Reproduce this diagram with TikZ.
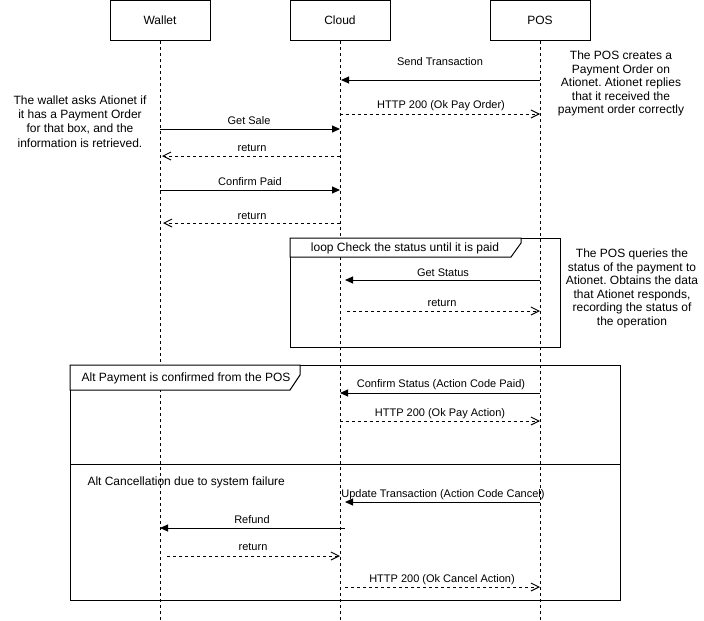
\documentclass[tikz,border=0pt]{standalone}
\usepackage{fontspec}
\setmainfont{Liberation Sans}
\usetikzlibrary{arrows.meta}
\frenchspacing
\begin{document}
\begin{tikzpicture}[x=1pt,y=-1pt,line width=1pt,
  head/.style={draw,minimum width=100pt,minimum height=40pt,inner sep=0pt,font=\fontsize{12}{14}\selectfont},
  lifeline/.style={dash pattern=on 3pt off 3pt},
  syncmsg/.style={-{Triangle[length=8pt,width=7pt]}},
  retmsg/.style={dash pattern=on 3pt off 3pt,-{Straight Barb[length=8pt,width=8pt]}},
  msglabel/.style={anchor=base,inner sep=0pt,font=\fontsize{11}{13}\selectfont},
  framelabel/.style={anchor=base,inner sep=0pt,font=\fontsize{12}{14}\selectfont},
  notetext/.style={align=center,inner sep=0pt,font=\fontsize{12}{13.5}\selectfont},
  frame/.style={draw},
  framehead/.style={draw,fill=white}]
\useasboundingbox (0,0) rectangle (704,621);
% heads
\node[head] (wallet) at (160,20.5) {Wallet};
\node[head] (cloud) at (340,20.5) {Cloud};
\node[head] (pos) at (540,20.5) {POS};
\coordinate (wend) at (160,621);
\coordinate (cend) at (340,621);
\coordinate (pend) at (540,621);
\draw[lifeline] (wallet.south) -- (wend);
\draw[lifeline] (cloud.south) -- (cend);
\draw[lifeline] (pos.south) -- (pend);
% frames
\draw[frame] (290,238) rectangle (560,347);
\draw[framehead] (290,238) -- (521,238) -- (521,243) -- (511,257) -- (290,257) -- cycle;
\node[framelabel] (looplabel) at (405,251.3) {loop Check the status until it is paid};
\draw[frame] (70,365) rectangle (620,600);
\draw[framehead] (70,365) -- (300,365) -- (300,375) -- (290,390) -- (70,390) -- cycle;
\draw[frame] (70,464) -- (620,464);
\node[framelabel] (altlabel) at (186,381.3) {Alt Payment is confirmed from the POS};
\node[framelabel,anchor=base west] (alt2label) at (87,485.3) {Alt Cancellation due to system failure};
% messages
\coordinate (a1) at (540,80); \coordinate (b1) at (341,80);
\draw[syncmsg] (a1) -- (b1);
\node[msglabel] (l1) at (440,65) {Send Transaction};
\coordinate (a2) at (340,114); \coordinate (b2) at (540,114);
\draw[retmsg] (a2) -- (b2);
\node[msglabel] (l2) at (441,108) {HTTP 200 (Ok Pay Order)};
\coordinate (a3) at (160,129); \coordinate (b3) at (340,129);
\draw[syncmsg] (a3) -- (b3);
\node[msglabel] (l3) at (249,124) {Get Sale};
\coordinate (a4) at (340,156); \coordinate (b4) at (162,156);
\draw[retmsg] (a4) -- (b4);
\node[msglabel] (l4) at (252,151) {return};
\coordinate (a5) at (160,190); \coordinate (b5) at (340,190);
\draw[syncmsg] (a5) -- (b5);
\node[msglabel] (l5) at (250,185) {Confirm Paid};
\coordinate (a6) at (340,223); \coordinate (b6) at (163,223);
\draw[retmsg] (a6) -- (b6);
\node[msglabel] (l6) at (252,219) {return};
\coordinate (a7) at (540,280); \coordinate (b7) at (345,280);
\draw[syncmsg] (a7) -- (b7);
\node[msglabel] (l7) at (443,276) {Get Status};
\coordinate (a8) at (347,311); \coordinate (b8) at (540,311);
\draw[retmsg] (a8) -- (b8);
\node[msglabel] (l8) at (442,306) {return};
\coordinate (a9) at (540,393); \coordinate (b9) at (340,393);
\draw[syncmsg] (a9) -- (b9);
\node[msglabel] (l9) at (441,387) {Confirm Status (Action Code Paid)};
\coordinate (a10) at (340,421); \coordinate (b10) at (540,421);
\draw[retmsg] (a10) -- (b10);
\node[msglabel] (l10) at (440,416) {HTTP 200 (Ok Pay Action)};
\coordinate (a11) at (540,502); \coordinate (b11) at (345,502);
\draw[syncmsg] (a11) -- (b11);
\node[msglabel] (l11) at (443,497) {Update Transaction (Action Code Cancel)};
\coordinate (a12) at (345,528); \coordinate (b12) at (160,528);
\draw[syncmsg] (a12) -- (b12);
\node[msglabel] (l12) at (252,523) {Refund};
\coordinate (a13) at (167,556); \coordinate (b13) at (340,556);
\draw[retmsg] (a13) -- (b13);
\node[msglabel] (l13) at (253,550) {return};
\coordinate (a14) at (345,587); \coordinate (b14) at (540,587);
\draw[retmsg] (a14) -- (b14);
\node[msglabel] (l14) at (442,582) {HTTP 200 (Ok Cancel Action)};
% notes
\node[notetext,font=\fontsize{12}{14.4}\selectfont] (n1) at (80,121.5) {The wallet asks Ationet if\\it has a Payment Order\\for that box, and the\\information is retrieved.};
\node[notetext] (n2) at (621,83.5) {The POS creates a\\Payment Order on\\Ationet. Ationet replies\\that it received the\\payment order correctly};
\node[notetext] (n3) at (632,288.5) {The POS queries the\\status of the payment to\\Ationet. Obtains the data\\that Ationet responds,\\recording the status of\\the operation};
\end{tikzpicture}
\end{document}
